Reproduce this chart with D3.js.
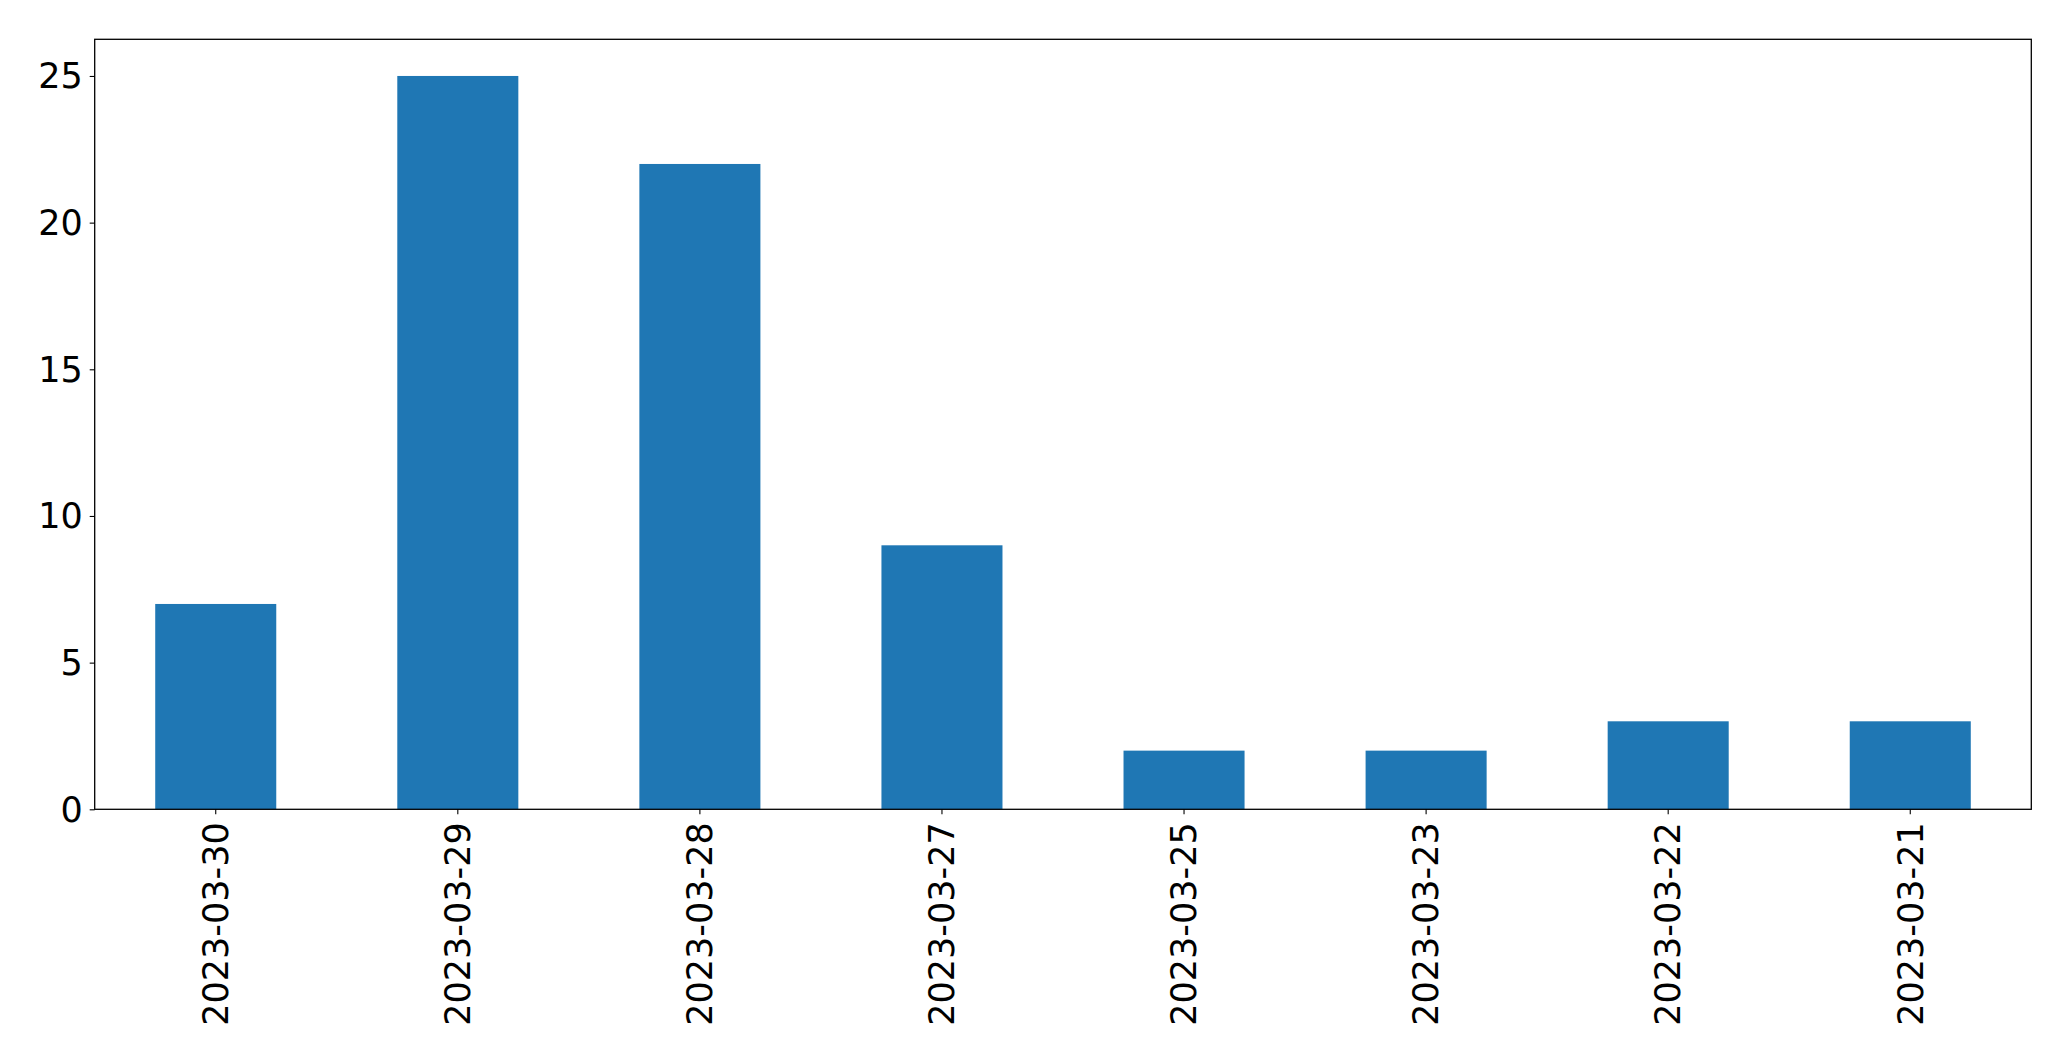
<!DOCTYPE html>
<html>
<head>
<meta charset="utf-8">
<script src="https://cdn.jsdelivr.net/npm/d3@7"></script>
<style>
  html, body { margin: 0; padding: 0; background: #fff; }
  svg { display: block; }
</style>
</head>
<body>
<svg id="chart" width="2071" height="1061"></svg>
<script>
const categories = ["2023-03-30", "2023-03-29", "2023-03-28", "2023-03-27", "2023-03-25", "2023-03-23", "2023-03-22", "2023-03-21"];
const values = [7, 25, 22, 9, 2, 2, 3, 3];
const yTicks = [0, 5, 10, 15, 20, 25];

const W = 2071, H = 1061;
const margin = { left: 94.7, right: W - 2031.3, top: 39.3, bottom: H - 809.3 };
const iw = W - margin.left - margin.right;
const ih = H - margin.top - margin.bottom;

const svg = d3.select("#chart");
const g = svg.append("g").attr("transform", `translate(${margin.left},${margin.top})`);

const x = d3.scaleBand().domain(categories).range([0, iw]).paddingInner(0.5).paddingOuter(0.25);
const yMax = d3.max(values) * 1.05;
const y = d3.scaleLinear().domain([0, yMax]).range([ih, 0]);

g.selectAll("rect.bar").data(values).enter().append("rect")
  .attr("class", "bar")
  .attr("x", (d, i) => x(categories[i]))
  .attr("width", x.bandwidth())
  .attr("y", d => y(d))
  .attr("height", d => ih - y(d))
  .attr("fill", "#1f77b4");

const font = "'DejaVu Sans', sans-serif";

const yAxis = d3.axisLeft(y).tickValues(yTicks).tickSize(5).tickPadding(7).tickFormat(d3.format("d"));
const gy = g.append("g").call(yAxis);
gy.select(".domain").remove();
gy.selectAll(".tick line").attr("stroke", "#000").attr("stroke-width", 1.1);
gy.selectAll(".tick text").attr("font-family", font).attr("font-size", 35).attr("fill", "#000").attr("dy", "0.34em");

const xAxis = d3.axisBottom(x).tickSize(5).tickPadding(7);
const gx = g.append("g").attr("transform", `translate(0,${ih})`).call(xAxis);
gx.select(".domain").remove();
gx.selectAll(".tick line").attr("stroke", "#000").attr("stroke-width", 1.1);
gx.selectAll(".tick text")
  .attr("font-family", font).attr("font-size", 35).attr("fill", "#000")
  .attr("transform", "rotate(-90)")
  .attr("text-anchor", "end")
  .attr("x", -13).attr("y", 0).attr("dy", "0.35em");

g.append("rect").attr("x", 0).attr("y", 0).attr("width", iw).attr("height", ih)
  .attr("fill", "none").attr("stroke", "#000").attr("stroke-width", 1.3);
</script>
</body>
</html>
